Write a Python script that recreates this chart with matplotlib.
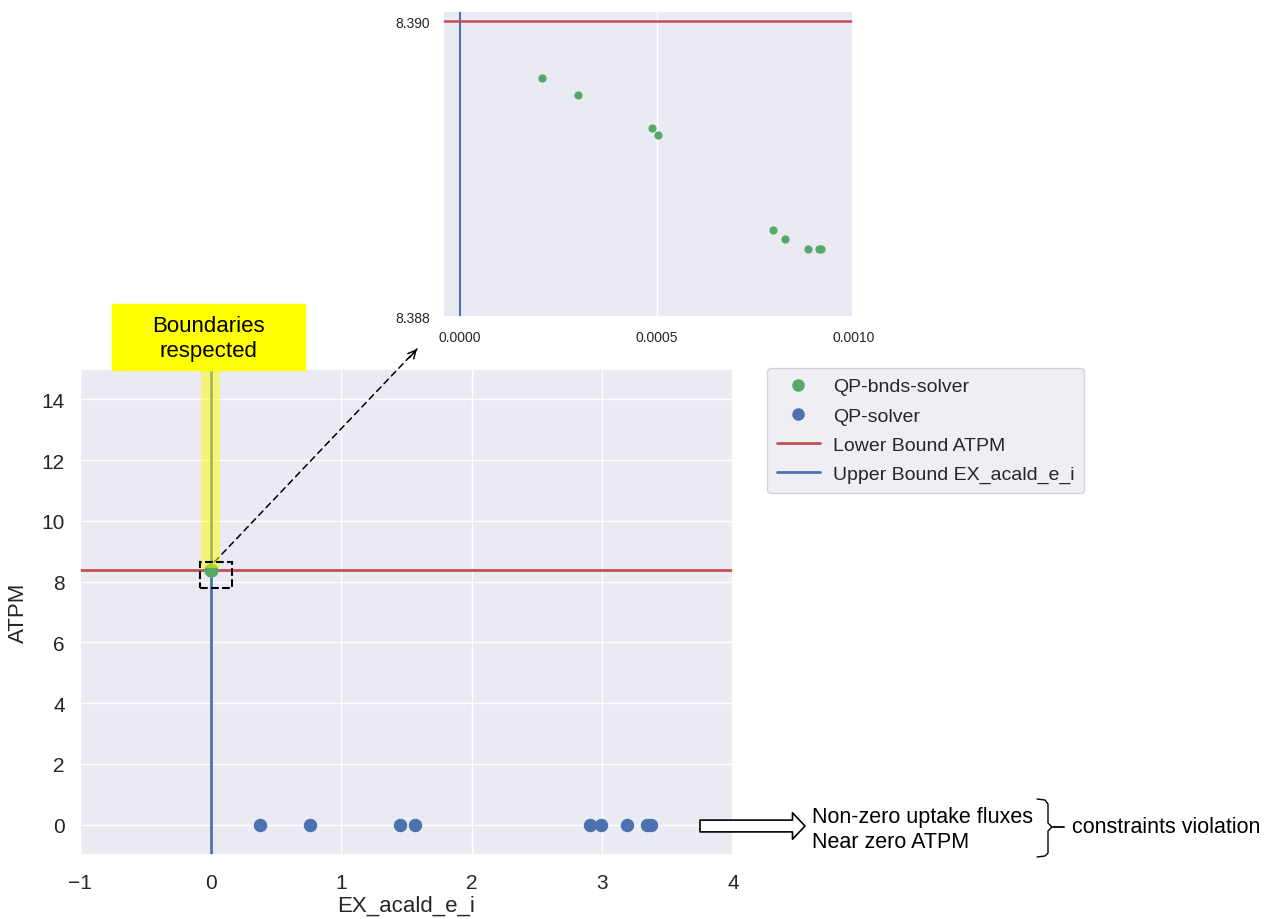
import matplotlib
matplotlib.use('Agg')
import matplotlib.pyplot as plt
import seaborn as sns
from matplotlib.patches import Rectangle, FancyArrowPatch
from matplotlib.lines import Line2D

sns.set_theme(style='darkgrid')
plt.rcParams['font.family'] = ['Liberation Sans', 'DejaVu Sans']

# QP-solver points (violate bounds, ATPM ~ 0)
qp_x = [0.377, 0.760, 1.450, 1.564, 2.904, 2.992, 3.191, 3.344, 3.369]
qp_y = [0, 0, 0, 0, 0, 0, 0, 0, 0]
# QP-bnds-solver points (all sit on the bounds)
bnds_x = [0.000208, 0.000300, 0.000487, 0.000504, 0.000797,
          0.000827, 0.000884, 0.000912, 0.000919]
bnds_y = [8.389619, 8.389501, 8.389280, 8.389231, 8.388591,
          8.388530, 8.388463, 8.388463, 8.388458]
lb_atpm = 8.39
ub_acald = 0.0

green = '#55a868'
blue = '#4c72b0'
red = '#c44e52'

W, H = 1266, 920
fig = plt.figure(figsize=(W / 100, H / 100), dpi=100)

# main plot
ax = fig.add_axes([80 / W, 1 - 856 / H, 653 / W, 486 / H])
ax.axvline(ub_acald, color=blue, lw=2, zorder=2)
ax.axhline(lb_atpm, color=red, lw=2, zorder=2)
ax.scatter(bnds_x, bnds_y, color=green, s=75, zorder=3)
ax.scatter(qp_x, qp_y, color=blue, s=75, zorder=3)
ax.set_xlim(-1, 4)
ax.set_ylim(-1, 15)
ax.set_xticks(range(-1, 5))
ax.set_yticks(range(0, 15, 2))
ax.tick_params(axis='both', labelsize=15, length=0)
ax.tick_params(axis='x', pad=13)
ax.tick_params(axis='y', pad=11)
ax.set_xlabel('EX_acald_e_i', fontsize=16, labelpad=2)
ax.set_ylabel('ATPM', fontsize=16, labelpad=9)

# highlight of the bounded region
ax.add_patch(Rectangle((-0.071, 8.45), 0.142, 6.6, color='yellow', alpha=0.5,
                       lw=0, zorder=4, clip_on=False))
# dashed zoom box
ax.add_patch(Rectangle((-0.084, 7.80), 0.245, 0.856, fill=False, ec='black',
                       ls='--', lw=1.5, zorder=5, clip_on=False))
# dashed arrow to inset
end = (417 / W, 1 - 350 / H)
ax.annotate('', xy=end, xycoords='figure fraction', xytext=(0.03, 8.65),
            textcoords='data',
            arrowprops=dict(arrowstyle='-', ls=(0, (4, 3)), lw=1.1,
                            color='black', shrinkA=0, shrinkB=0))
ax.annotate('', xy=end, xycoords='figure fraction',
            xytext=(end[0] - 0.006, end[1] - 0.0095),
            textcoords='figure fraction',
            arrowprops=dict(arrowstyle='->', lw=1.1, color='black',
                            shrinkA=0, shrinkB=0, mutation_scale=14))

# inset zoom
axin = fig.add_axes([442.7 / W, 1 - 318 / H, 410.6 / W, 306 / H])
axin.axvline(ub_acald, color=blue, lw=1.5)
axin.axhline(lb_atpm, color=red, lw=1.8)
axin.scatter(bnds_x, bnds_y, color=green, s=24, zorder=3)
axin.set_xlim(-0.000044, 0.001)
axin.set_ylim(8.388, 8.39007)
axin.set_xticks([0, 0.0005, 0.001])
axin.set_xticklabels(['0.0000', '0.0005', '0.0010'])
axin.set_yticks([8.388, 8.390])
axin.set_yticklabels(['8.388', '8.390'])
axin.tick_params(axis='both', labelsize=10, length=0, pad=9)

# legend
handles = [
    Line2D([], [], marker='o', ls='', color=green, markersize=8, label='QP-bnds-solver'),
    Line2D([], [], marker='o', ls='', color=blue, markersize=8, label='QP-solver'),
    Line2D([], [], color=red, lw=2, label='Lower Bound ATPM'),
    Line2D([], [], color=blue, lw=2, label='Upper Bound EX_acald_e_i'),
]
fig.legend(handles=handles, loc='upper left', bbox_to_anchor=(767 / W, 1 - 369 / H),
           fontsize=14, frameon=True, borderaxespad=0, handlelength=2.2,
           handletextpad=0.7, labelspacing=0.6, borderpad=0.5)

# yellow label
fig.patches.append(Rectangle((112 / W, 1 - 371 / H), 193 / W, 66 / H,
                             transform=fig.transFigure, color='#ffff00', zorder=3))
fig.text(208.5 / W, 1 - 339 / H, 'Boundaries\nrespected', ha='center', va='center',
         fontsize=16, linespacing=1.3, color='black', zorder=4)

# hollow arrow and notes
fig.add_artist(FancyArrowPatch((700 / W, 1 - 827 / H), (805 / W, 1 - 827 / H),
                               transform=fig.transFigure,
                               arrowstyle='simple,head_length=9,head_width=19,tail_width=8.5',
                               mutation_scale=1, fc='white', ec='black', lw=1.2,
                               shrinkA=0, shrinkB=0))
fig.text(812 / W, 1 - 830 / H, 'Non-zero uptake fluxes\nNear zero ATPM', ha='left',
         va='center', fontsize=15.5, linespacing=1.2, color='black')
bx = [1037, 1045, 1048, 1048, 1052, 1048, 1048, 1045, 1037]
by = [800, 801, 805, 824, 828, 832, 854, 857, 858]
fig.add_artist(Line2D([x / W for x in bx], [1 - y / H for y in by],
                      transform=fig.transFigure, color='black', lw=1))
fig.add_artist(Line2D([1053 / W, 1064 / W], [1 - 828 / H, 1 - 828 / H],
                      transform=fig.transFigure, color='black', lw=1.3))
fig.text(1072 / W, 1 - 828 / H, 'constraints violation', ha='left', va='center',
         fontsize=15.5, color='black')

fig.savefig('out.png', dpi=100)
